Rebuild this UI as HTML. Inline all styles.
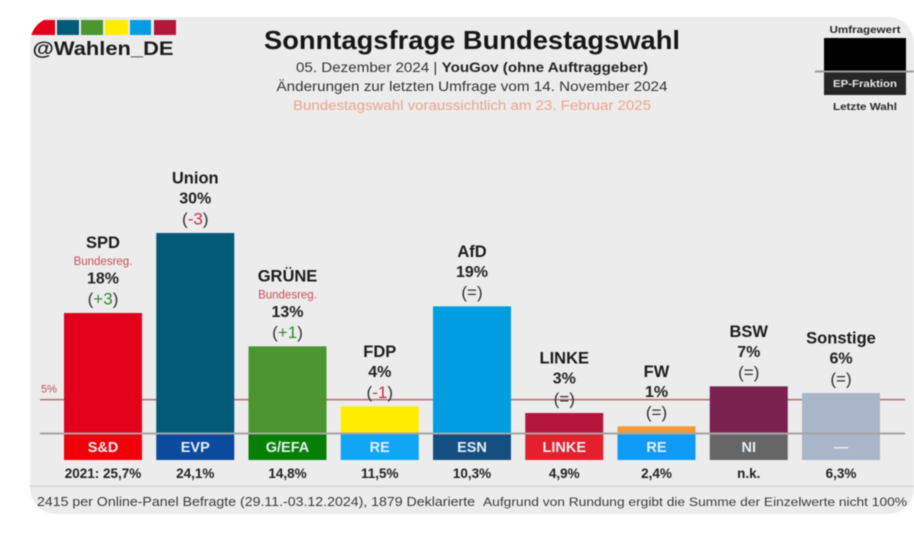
<!DOCTYPE html>
<html lang="de">
<head>
<meta charset="utf-8">
<title>Sonntagsfrage Bundestagswahl</title>
<style>
html,body{margin:0;padding:0;background:#fff;width:914px;height:538px;overflow:hidden}
svg{display:block;filter:blur(.45px)}
text{font-family:"Liberation Sans",sans-serif;text-anchor:middle}
</style>
</head>
<body>
<svg id="chart" width="914" height="538" viewBox="0 0 914 538" xmlns="http://www.w3.org/2000/svg">
  <defs>
    <clipPath id="card-clip"><rect x="30" y="17" width="884" height="497" rx="26"/></clipPath>
  </defs>
  <rect x="30" y="17" width="884" height="497" rx="26" fill="#ececec"/>
  <g clip-path="url(#card-clip)">
    <rect x="30" y="20" width="25" height="15" fill="#e3001b"/>
    <rect x="57" y="20" width="22" height="15" fill="#005a78"/>
    <rect x="81" y="20" width="22" height="15" fill="#4b962e"/>
    <rect x="105" y="20" width="23" height="15" fill="#ffed00"/>
    <rect x="130" y="20" width="21" height="15" fill="#009ee0"/>
    <rect x="154" y="20" width="22" height="15" fill="#b5173c"/>
  </g>
  <text x="103" y="55" font-size="19.5" font-weight="700" fill="#1c1c1c" textLength="141" lengthAdjust="spacingAndGlyphs">@Wahlen_DE</text>

  <text x="472" y="49" font-size="26" font-weight="700" fill="#161616" textLength="416" lengthAdjust="spacingAndGlyphs">Sonntagsfrage Bundestagswahl</text>
  <text x="472" y="72" font-size="13.5" fill="#333" textLength="352" lengthAdjust="spacingAndGlyphs">05. Dezember 2024 | <tspan font-weight="700" fill="#222">YouGov (ohne Auftraggeber)</tspan></text>
  <text x="472" y="91" font-size="13.5" fill="#333" textLength="391" lengthAdjust="spacingAndGlyphs">Änderungen zur letzten Umfrage vom 14. November 2024</text>
  <text x="472" y="110" font-size="13.5" fill="#eca58c" textLength="358" lengthAdjust="spacingAndGlyphs">Bundestagswahl voraussichtlich am 23. Februar 2025</text>

  <g>
    <text x="865" y="33" font-size="10.5" font-weight="700" fill="#2a2a2a" textLength="71" lengthAdjust="spacingAndGlyphs">Umfragewert</text>
    <rect x="824" y="38" width="82" height="33" fill="#000"/>
    <rect x="824" y="72" width="82" height="23" fill="#262626"/>
    <rect x="815" y="70.5" width="99" height="2" fill="#9a9a9a"/>
    <text x="865" y="87" font-size="10.5" font-weight="700" fill="#e8e8e8" textLength="64" lengthAdjust="spacingAndGlyphs">EP-Fraktion</text>
    <text x="865" y="110" font-size="10.5" font-weight="700" fill="#2a2a2a" textLength="64" lengthAdjust="spacingAndGlyphs">Letzte Wahl</text>
  </g>

  <g id="threshold-layer"></g>
  <g id="bars-layer"></g>
  <rect x="40" y="432.5" width="865" height="2" fill="#a5a5a5"/>
  <g id="labels-layer"></g>

  <rect x="30" y="485.5" width="884" height="1.5" fill="#d2d2d2"/>
  <text x="37" y="506" font-size="12.5" fill="#3a3a3a" style="text-anchor:start" textLength="438" lengthAdjust="spacingAndGlyphs">2415 per Online-Panel Befragte (29.11.-03.12.2024), 1879 Deklarierte</text>
  <text x="483" y="506" font-size="11.5" fill="#3a3a3a" style="text-anchor:start" textLength="424" lengthAdjust="spacingAndGlyphs">Aufgrund von Rundung ergibt die Summe der Einzelwerte nicht 100%</text>
</svg>
<script>
const parties = ["SPD","Union","GRÜNE","FDP","AfD","LINKE","FW","BSW","Sonstige"];
const pollValues = [18,30,13,4,19,3,1,7,6];
const changes = ["+3","-3","+1","-1","=","=","=","=","="];
const govNotes = ["Bundesreg.","","Bundesreg.","","","","","",""];
const epGroups = ["S&D","EVP","G/EFA","RE","ESN","LINKE","RE","NI","—"];
const lastElection = ["2021: 25,7%","24,1%","14,8%","11,5%","10,3%","4,9%","2,4%","n.k.","6,3%"];
const barColours = ["#e3001b","#005a78","#4b962e","#ffed00","#009ee0","#b5173c","#f39a36","#7a2150","#a9b6c9"];
const groupColours = ["#f00008","#0b4a9c","#058005","#10a5f5","#154f7f","#e4202c","#0f9bf5","#666666","#a9b6c9"];
const thresholdValue = 5;

const svg = document.getElementById('chart');
const NS = 'http://www.w3.org/2000/svg';
const barsLayer = document.getElementById('bars-layer');
const labelsLayer = document.getElementById('labels-layer');
const thresholdLayer = document.getElementById('threshold-layer');

const xStart = 64, xStep = 92.25, barW = 78;
const y0 = 433, pxPerPoint = 6.667;
function xAxis(i){ return xStart + i * xStep; }
function yAxis(v){ return y0 - v * pxPerPoint; }

function makeRect(x, y, w, h, fill){
  const r = document.createElementNS(NS, 'rect');
  r.setAttribute('x', x);
  r.setAttribute('y', y);
  r.setAttribute('width', w);
  r.setAttribute('height', h);
  r.setAttribute('fill', fill);
  return r;
}
function makeText(x, y, size, weight, fill, content){
  const t = document.createElementNS(NS, 'text');
  t.setAttribute('x', x);
  t.setAttribute('y', y);
  t.setAttribute('font-size', size);
  t.setAttribute('font-weight', weight);
  t.setAttribute('fill', fill);
  t.textContent = content;
  return t;
}

const line = makeRect(40, yAxis(thresholdValue) - 0.75, 865, 1.5, '#b86a6a');


thresholdLayer.appendChild(line);

const thresholdLabel = makeText(49, yAxis(thresholdValue) - 7, 11, 400, '#b5525a', thresholdValue + '%');


thresholdLayer.appendChild(thresholdLabel);

parties.forEach(function(name, i){
  const x = xAxis(i), cx = x + barW / 2, top = yAxis(pollValues[i]);

  const bar = makeRect(x, top, barW, y0 - top, barColours[i]);
  
  
  barsLayer.appendChild(bar);

  const box = makeRect(x, 434, barW, 26, groupColours[i]);
  
  
  barsLayer.appendChild(box);

  const group = makeText(cx, 452, 14.5, 700, '#e6eef5', epGroups[i]);
  
  
  labelsLayer.appendChild(group);

  const last = makeText(cx, 478, 13.5, 700, '#222', lastElection[i]);
  
  
  labelsLayer.appendChild(last);

  const chg = makeText(cx, top - 8.5, 17, 400, '#333', '(');
  
  
  const mid = document.createElementNS(NS, 'tspan');
  const sign = changes[i][0];
  mid.setAttribute('fill', sign === '+' ? '#2f8a2f' : sign === '-' ? '#c8324a' : '#333');
  mid.textContent = changes[i];
  chg.appendChild(mid);
  chg.appendChild(document.createTextNode(')'));
  labelsLayer.appendChild(chg);

  const pct = makeText(cx, top - 29.5, 16, 700, '#222', pollValues[i] + '%');
  
  
  labelsLayer.appendChild(pct);

  let nameY = top - 49.5;
  if (govNotes[i]) {
    const gov = makeText(cx, top - 48, 11.5, 400, '#c8505a', govNotes[i]);
    
    
    labelsLayer.appendChild(gov);
    nameY = top - 65;
  }
  const party = makeText(cx, nameY, 16.5, 700, '#1c1c1c', name);
  
  
  labelsLayer.appendChild(party);
});
</script>
</body>
</html>
